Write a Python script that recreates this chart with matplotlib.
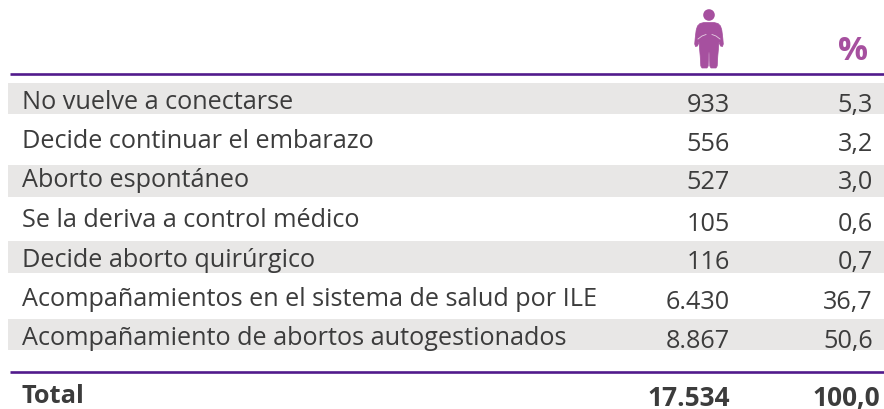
import matplotlib
matplotlib.use("Agg")
import matplotlib.pyplot as plt
from matplotlib.patches import Circle, Polygon, Rectangle

categories = ["No vuelve a conectarse", "Decide continuar el embarazo", "Aborto espontáneo",
              "Se la deriva a control médico", "Decide aborto quirúrgico",
              "Acompañamientos en el sistema de salud por ILE",
              "Acompañamiento de abortos autogestionados"]
counts = ["933", "556", "527", "105", "116", "6.430", "8.867"]
percents = ["5,3", "3,2", "3,0", "0,6", "0,7", "36,7", "50,6"]
total_label = "Total"
total_count = "17.534"
total_percent = "100,0"

label_y = [109, 148, 187, 227, 267, 306, 345]
number_y = [112, 151, 189, 231, 269, 309, 348]
bands = [(83, 114), (165, 197), (241, 273), (319, 350)]

PURPLE = "#521a8c"
ICON = "#a6509f"
TEXT = "#3c3c3c"

plt.rcParams["font.family"] = ["Open Sans", "DejaVu Sans"]

fig = plt.figure(figsize=(8.84, 4.09), dpi=100)
ax = fig.add_axes([0, 0, 1, 1])
ax.set_xlim(0, 884)
ax.set_ylim(409, 0)
ax.axis("off")

for top, bottom in bands:
    ax.add_patch(Rectangle((8, top), 876, bottom - top, color="#e8e7e6", lw=0))

ax.plot([10, 884], [74, 74], color=PURPLE, lw=1.9, solid_capstyle="butt")
ax.plot([10, 884], [372, 372], color=PURPLE, lw=1.9, solid_capstyle="butt")

# person icon, right half of the outline mirrored around the centre
cx = 709
half = [(0, 22.5), (5, 22.5), (9, 23.5), (11.5, 26), (12.8, 30), (13.8, 38), (14.3, 44), (13.5, 46.5),
        (11.5, 46), (10, 42), (9.5, 48), (8.8, 56), (8.2, 66), (7, 68), (2, 68), (0.8, 66), (0.5, 54), (0, 52)]
outline = [(cx + a, b) for a, b in half] + [(cx - a, b) for a, b in reversed(half)]
ax.add_patch(Circle((cx, 15), 5.8, color=ICON, lw=0))
ax.add_patch(Polygon(outline, closed=True, color=ICON, lw=0.5, joinstyle="round"))
ax.plot([cx - 11, cx - 7, cx - 3], [39, 36, 34.5], color="#e6cfe3", lw=0.6)
ax.plot([cx + 11, cx + 7, cx + 3], [39, 36, 34.5], color="#e6cfe3", lw=0.6)

ax.text(853, 60, "%", color=ICON, fontsize=24, fontweight="bold", ha="center", va="baseline")

for cat, c, p, ly, ny in zip(categories, counts, percents, label_y, number_y):
    ax.text(22, ly, cat, color=TEXT, fontsize=18.2, ha="left", va="baseline")
    ax.text(730, ny, c, color=TEXT, fontsize=18.2, ha="right", va="baseline")
    ax.text(873, ny, p, color=TEXT, fontsize=18.2, ha="right", va="baseline")

ax.text(22, 403, total_label, color=TEXT, fontsize=18.3, fontweight="bold", ha="left", va="baseline")
ax.text(730, 406, total_count, color=TEXT, fontsize=18.9, fontweight="bold", ha="right", va="baseline")
ax.text(880, 406, total_percent, color=TEXT, fontsize=18.9, fontweight="bold", ha="right", va="baseline")

fig.savefig("out.png", dpi=100)
plt.close()
